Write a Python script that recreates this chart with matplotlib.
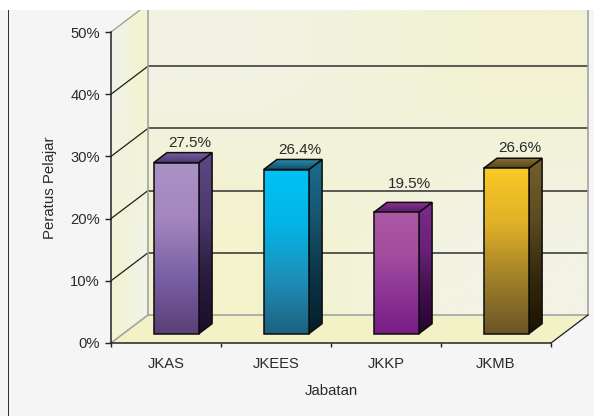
import numpy as np
import matplotlib
matplotlib.use('Agg')
import matplotlib.pyplot as plt
from matplotlib.colors import LinearSegmentedColormap, to_rgb
from matplotlib.patches import Polygon, Rectangle

categories = ['JKAS', 'JKEES', 'JKKP', 'JKMB']
values = [27.5, 26.4, 19.5, 26.6]
y_ticks = [0, 10, 20, 30, 40, 50]

# front, side and top gradients of each bar, top colour first
front_colors = [
    ['#ab92c6', '#a386bd', '#7a60a6', '#5a3f76'],
    ['#00c2f7', '#04b4e6', '#1d8fb8', '#1c6181'],
    ['#ab58a2', '#a34e9f', '#8c3596', '#771c84'],
    ['#f9ca26', '#e0b028', '#a08029', '#6b5526'],
]
side_colors = [
    ['#5e4787', '#4d3a70', '#2c1c40', '#1b0d2a'],
    ['#1c6c8e', '#17556f', '#0b3547', '#021e2a'],
    ['#7c2a8c', '#6b2279', '#42104e', '#26042f'],
    ['#74602c', '#5e4c20', '#352a0c', '#191300'],
]
top_colors = [
    ['#7b62a3', '#4b3570'],
    ['#2a90b4', '#0f4a62'],
    ['#93389c', '#5a1a66'],
    ['#8d7430', '#55441a'],
]
# value labels do not sit at one fixed gap above the bars
label_gaps = [2, 2, 8.5, 2]

BG = '#f5f5f5'
TEXT = '#2a2a2a'
DX = 37 / 110.0
DY = 28 / 6.22
BAR_W = 0.41
BAR_SHIFT = -2 / 110.0
D0, D1 = 0.33, 0.69


def proj(x, y, d):
    return x + d * DX, y + d * DY


def cmap_of(colors):
    return LinearSegmentedColormap.from_list('g', colors)


def grad_face(ax, pts, colors, z):
    # vertical gradient clipped to a polygon
    pts = np.array(pts)
    grad = np.linspace(0, 1, 128).reshape(-1, 1)
    ext = [pts[:, 0].min(), pts[:, 0].max(), pts[:, 1].min(), pts[:, 1].max()]
    im = ax.imshow(grad, cmap=cmap_of(colors), extent=ext, origin='upper',
                   aspect='auto', zorder=z, interpolation='bilinear')
    clip = Polygon(pts, closed=True, transform=ax.transData)
    im.set_clip_path(clip)
    ax.add_patch(Polygon(pts, closed=True, fc='none', ec='#0c0c0c', lw=1.1,
                         zorder=z + 0.1, joinstyle='miter'))


def corner_face(ax, pts, corners, z):
    # two by two colour image, smoothed, clipped to a polygon
    pts = np.array(pts)
    img = np.array([[to_rgb(corners[0]), to_rgb(corners[1])],
                    [to_rgb(corners[2]), to_rgb(corners[3])]])
    ext = [pts[:, 0].min(), pts[:, 0].max(), pts[:, 1].min(), pts[:, 1].max()]
    im = ax.imshow(img, extent=ext, origin='upper', aspect='auto', zorder=z,
                   interpolation='bilinear')
    im.set_clip_path(Polygon(pts, closed=True, transform=ax.transData))


plt.rcParams['font.family'] = ['Liberation Sans', 'DejaVu Sans']
fig = plt.figure(figsize=(5.94, 4.16), dpi=100, facecolor=BG)
ax = fig.add_axes([0, 0, 1, 1], facecolor='none')

# walls and floor
corner_face(ax, [proj(0, 0, 1), proj(4, 0, 1), proj(4, 50, 1), proj(0, 50, 1)],
            ['#f1f2e3', '#f2f2d2', '#f3f3cc', '#f2f3e5'], 1)
corner_face(ax, [proj(0, 0, 0), proj(0, 0, 1), proj(0, 50, 1), proj(0, 50, 0)],
            ['#f1f2e6', '#f3f3d0', '#f2f3d4', '#f1f3e6'], 1)
ax.add_patch(Polygon([proj(0, 0, 0), proj(4, 0, 0), proj(4, 0, 1), proj(0, 0, 1)],
                     closed=True, fc='#f3f2c6', ec='none', zorder=1))

# grid lines
for v in y_ticks[1:]:
    col = '#9a9a9a' if v == 50 else '#1e1e1e'
    xs, ys = zip(proj(0, v, 0), proj(0, v, 1), proj(4, v, 1))
    ax.plot(xs[:2], ys[:2], color=col, lw=0.9, zorder=2)
    if v < 50:
        ax.plot(xs[1:], ys[1:], color='#303030', lw=1.1, zorder=2)

# wall edges
for a, b in [(proj(0, 0, 1), proj(0, 50, 1)), (proj(4, 0, 1), proj(4, 50, 1)),
             (proj(0, 0, 1), proj(4, 0, 1)), (proj(0, 0, 0), proj(0, 0, 1))]:
    ax.plot([a[0], b[0]], [a[1], b[1]], color='#a3a3a3', lw=1.2, zorder=2.5)
a, b = proj(4, 0, 0), proj(4, 0, 1)
ax.plot([a[0], b[0]], [a[1], b[1]], color='#1e1e1e', lw=0.9, zorder=2.5)

# bars
for i, v in enumerate(values):
    x0 = i + 0.5 + BAR_SHIFT - BAR_W / 2
    x1 = i + 0.5 + BAR_SHIFT + BAR_W / 2
    front = [proj(x0, 0, D0), proj(x1, 0, D0), proj(x1, v, D0), proj(x0, v, D0)]
    side = [proj(x1, 0, D0), proj(x1, 0, D1), proj(x1, v, D1), proj(x1, v, D0)]
    top = [proj(x0, v, D0), proj(x1, v, D0), proj(x1, v, D1), proj(x0, v, D1)]
    grad_face(ax, side, side_colors[i], 3)
    grad_face(ax, top, top_colors[i], 3.2)
    grad_face(ax, front, front_colors[i], 3.4)
    lx, ly = proj(i + 0.5 + BAR_SHIFT, v, D1)
    ax.annotate(f'{v}%', (lx, ly), xytext=(0, label_gaps[i]), textcoords='offset points',
                ha='center', va='bottom', fontsize=11, color=TEXT, zorder=5)

ax.set_xlim(-111 / 110.0, (594 - 111) / 110.0)
ax.set_ylim((343 - 416) / 6.22, 343 / 6.22)

# axes
for s in ['top', 'right']:
    ax.spines[s].set_visible(False)
ax.spines['left'].set_position(('data', 0))
ax.spines['bottom'].set_position(('data', 0))
ax.spines['left'].set_bounds(0, 50)
ax.spines['bottom'].set_bounds(0, 4)
for s in ['left', 'bottom']:
    ax.spines[s].set_color('#222222')
    ax.spines[s].set_linewidth(1.1)
    ax.spines[s].set_zorder(4)

ax.set_yticks(y_ticks)
ax.set_yticklabels([f'{v}%' for v in y_ticks], fontsize=10.6, color=TEXT)
ax.tick_params(axis='y', length=4.5, width=1.0, color='#222222', pad=3.5)
ax.set_xticks(range(5))
ax.set_xticklabels([''] * 5)
ax.tick_params(axis='x', length=3, width=1.0, color='#222222')
ax.set_xticks([i + 0.5 for i in range(4)], minor=True)
ax.set_xticklabels(categories, minor=True, fontsize=10.6, color=TEXT)
ax.tick_params(axis='x', which='minor', length=0, pad=10)

ax.set_xlabel('Jabatan', fontsize=10.8, color=TEXT)
ax.set_ylabel('Peratus Pelajar', fontsize=10.8, color=TEXT)
ax.xaxis.set_label_coords((331 - 111) / 110.0, (343 - 384) / 6.22, transform=ax.transData)
ax.yaxis.set_label_coords((57 - 111) / 110.0, (343 - 188) / 6.22, transform=ax.transData)

# white strip on top and the dark frame line on the left
fig.add_artist(Rectangle((0, 1 - 10 / 416), 1, 10 / 416, transform=fig.transFigure,
                         fc='white', ec='none', zorder=10))
fig.add_artist(Rectangle((7.5 / 594, 0), 1.6 / 594, 1 - 10 / 416, transform=fig.transFigure,
                         fc='#333333', ec='none', zorder=10))

fig.savefig('out.png', dpi=100, facecolor=fig.get_facecolor())
